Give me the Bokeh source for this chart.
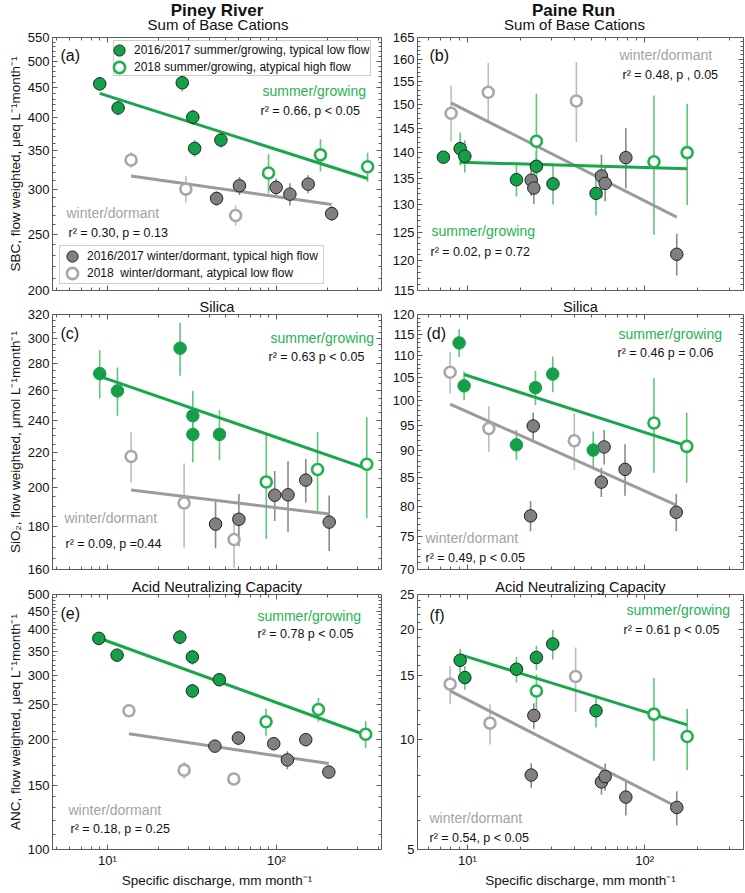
import math
from bokeh.plotting import figure
from bokeh.models import Range1d, FixedTicker, LogAxis, Label, Legend, LegendItem, BoxAnnotation, Title
from bokeh.layouts import column, row
from bokeh.embed import file_html
from bokeh.resources import INLINE

# ---------------- data ----------------
# groups: st = 2016/2017 summer/growing (typical low flow, filled green)
#         sa = 2018 summer/growing (atypical high flow, open green)
#         wt = 2016/2017 winter/dormant (typical high flow, filled gray)
#         wa = 2018 winter/dormant (atypical low flow, open gray)

# (a) Piney River, Sum of Base Cations
a_q = [9.0, 11.56, 27.7, 32.0, 32.8, 46.9, 89.7, 182, 346, 44.2, 60.4, 99.5, 120, 154, 212, 13.8, 29.1, 57.3]
a_val = [457, 415, 459, 400, 353, 365, 320, 344, 328, 289, 304, 302, 294, 306, 272, 337, 300, 270]
a_err = [13, 12, 16, 12, 12, 11, 25, 22, 19, 8, 11, 11, 13, 11, 8, 11, 16, 11]
a_grp = ["st"] * 6 + ["sa"] * 3 + ["wt"] * 6 + ["wa"] * 3
a_fit_sum_q, a_fit_sum_v = [9.0, 346], [440, 313]
a_fit_win_q, a_fit_win_v = [13.8, 212], [316, 282]

# (b) Paine Run, Sum of Base Cations
b_q = [7.31, 9.09, 9.66, 18.9, 24.5, 30.4, 53.2, 24.5, 113, 174, 22.9, 23.7, 57.1, 59.9, 78.4, 152, 8.08, 13.1, 41.2]
b_val = [139.1, 140.8, 139.3, 134.7, 137.3, 133.9, 132.1, 142.3, 138.2, 140.0, 134.6, 133.1, 135.4, 134.0, 139.0, 121.1, 148.1, 152.6, 150.7]
b_err = [0.8, 3.3, 3.2, 3.2, 3.0, 3.9, 4.1, 10.0, 13.7, 10.1, 3.0, 3.0, 4.2, 3.4, 6.0, 3.6, 5.9, 6.5, 8.6]
b_grp = ["st"] * 7 + ["sa"] * 3 + ["wt"] * 6 + ["wa"] * 3
b_fit_sum_q, b_fit_sum_v = [9.09, 174], [138.1, 136.8]
b_fit_win_q, b_fit_win_v = [8.08, 152], [150.3, 127.7]

# (c) Piney River, Silica
c_q = [9.0, 11.46, 26.9, 32.0, 32.0, 46.0, 87.0, 175, 342, 43.6, 59.9, 97.6, 117, 149, 205, 13.8, 28.4, 56.1]
c_val = [272.5, 260, 292, 243, 231, 231, 203, 210, 213, 181, 183.4, 195.8, 196, 204, 182, 217.5, 191.7, 173.6]
c_err = [17.8, 17, 21, 17, 17, 15.7, 29, 22.5, 29, 11.5, 13, 13.3, 18.7, 12, 13.7, 14.8, 21.8, 12.8]
c_grp = ["st"] * 6 + ["sa"] * 3 + ["wt"] * 6 + ["wa"] * 3
c_fit_sum_q, c_fit_sum_v = [9.0, 342], [270.5, 210.5]
c_fit_win_q, c_fit_win_v = [13.8, 205], [198.6, 186]

# (d) Paine Run, Silica
d_q = [8.97, 9.57, 18.9, 24.2, 30.3, 51.3, 113, 173, 22.7, 23.5, 57.0, 59.1, 77.6, 151, 7.98, 13.2, 40.1]
d_val = [113.0, 103.2, 91.1, 102.8, 105.8, 90.1, 95.4, 90.8, 78.4, 94.8, 84.2, 90.7, 86.5, 79.0, 106.2, 94.3, 91.9]
d_err = [3.3, 3.1, 2.9, 3.7, 4.0, 3.6, 9.5, 6.7, 2.5, 2.7, 2.6, 3.3, 4.7, 3.1, 4.6, 4.5, 5.5]
d_grp = ["st"] * 6 + ["sa"] * 2 + ["wt"] * 6 + ["wa"] * 3
d_fit_sum_q, d_fit_sum_v = [9.57, 173], [105.7, 90.9]
d_fit_win_q, d_fit_win_v = [7.98, 151], [99.3, 80.2]

# (e) Piney River, Acid Neutralizing Capacity
e_q = [8.89, 11.4, 26.8, 31.8, 31.8, 45.9, 86.7, 177, 337, 43.2, 59.5, 96.3, 116, 149, 204, 13.4, 28.4, 55.9]
e_val = [379, 341, 382, 337, 272, 292, 224, 242, 207, 192, 202, 195, 176, 200, 163, 240, 165, 156]
e_err = [16, 13, 18, 16, 12.6, 12, 19, 18, 17.5, 7, 9, 8, 10, 8, 6, 9, 8.7, 6.6]
e_grp = ["st"] * 6 + ["sa"] * 3 + ["wt"] * 6 + ["wa"] * 3
e_fit_sum_q, e_fit_sum_v = [8.89, 337], [380, 206]
e_fit_win_q, e_fit_win_v = [13.4, 204], [207.5, 172]

# (f) Paine Run, Acid Neutralizing Capacity
f_q = [9.09, 9.66, 18.9, 24.5, 30.3, 53.2, 24.5, 113, 174, 23.7, 22.9, 57.1, 59.9, 78.4, 152, 7.98, 13.4, 40.8]
f_val = [16.5, 14.8, 15.6, 16.8, 18.3, 12.0, 13.6, 11.75, 10.2, 11.65, 8.0, 7.66, 7.92, 6.96, 6.52, 14.2, 11.1, 14.9]
f_err = [1.25, 1.1, 1.25, 1.3, 1.7, 1.2, 1.5, 3.0, 1.95, 0.93, 0.62, 0.58, 0.68, 0.76, 0.7, 1.7, 1.4, 3.0]
f_grp = ["st"] * 6 + ["sa"] * 3 + ["wt"] * 6 + ["wa"] * 3
f_fit_sum_q, f_fit_sum_v = [9.09, 174], [17.1, 10.98]
f_fit_win_q, f_fit_win_v = [7.98, 152], [13.6, 6.55]

# axis ticks
x_ticks = [10, 100]
x_tick_labels = ["10\u00b9", "10\u00b2"]
x_minor = [5, 6, 7, 8, 9, 20, 30, 40, 50, 60, 70, 80, 90, 200, 300, 400]
a_yticks = [200, 250, 300, 350, 400, 450, 500, 550]
b_yticks = [115, 120, 125, 130, 135, 140, 145, 150, 155, 160, 165]
c_yticks = [160, 180, 200, 220, 240, 260, 280, 300, 320]
d_yticks = [70, 75, 80, 85, 90, 95, 100, 105, 110, 115, 120]
e_yticks = [100, 150, 200, 250, 300, 350, 400, 450, 500]
f_yticks = [5, 10, 15, 20, 25]

# ---------------- style ----------------
FONT = "Liberation Sans"
FRAME = "#5a5a5a"
GREEN_FILL = "#14a049"
GREEN_OPEN = "#22b14f"
GREEN_ERR = "#62c47e"
GREEN_LINE = "#1aa64a"
GREEN_TEXT = "#25b350"
GRAY_FILL = "#808080"
GRAY_OPEN = "#a8a8a8"
GRAY_ERR_T = "#8a8a8a"
GRAY_ERR_A = "#bcbcbc"
GRAY_LINE = "#9b9b9b"
GRAY_TEXT = "#a3a3a3"

HEADER_H = 32
COLS = [dict(width=384, bl=52, br=3, xr=(4.73, 418), toff=0),
        dict(width=361, bl=33, br=2, xr=(5.22, 362), toff=-6)]
ROWS = [dict(height=263, bt=5, bb=5),
        dict(height=280, bt=19, bb=6),
        dict(height=318, bt=19, bb=44)]


def minor_between(ticks, step):
    out = []
    v = ticks[0]
    while v < ticks[-1] - 1e-9:
        v = round(v + step, 6)
        if all(abs(v - t) > 1e-9 for t in ticks) and v < ticks[-1]:
            out.append(v)
    return out


def style_axis(ax, ticks, minor, labels=None):
    ax.ticker = FixedTicker(ticks=ticks, minor_ticks=minor)
    ax.axis_line_color = None
    ax.major_tick_in = 5
    ax.major_tick_out = 0
    ax.minor_tick_in = 3
    ax.minor_tick_out = 0
    ax.major_tick_line_color = FRAME
    ax.minor_tick_line_color = FRAME
    if labels is not None:
        ax.major_label_text_font = FONT
        ax.major_label_text_font_size = "13px"
        ax.major_label_text_color = "#111111"
        ax.major_label_standoff = 3
        ax.major_label_overrides = labels
    else:
        ax.major_label_text_font_size = "1px"
        ax.major_label_text_alpha = 0.0
        ax.major_label_standoff = 0


def axis_title(ax, text, standoff):
    ax.axis_label = text
    ax.axis_label_text_font = FONT
    ax.axis_label_text_font_size = "13.5px"
    ax.axis_label_text_font_style = "normal"
    ax.axis_label_text_color = "#111111"
    ax.axis_label_standoff = standoff


def add_label(p, text, x, y, size, color="#111111", align="left", bold=False):
    p.add_layout(Label(x=x, y=y, x_units="screen", y_units="screen", text=text,
                       text_font=FONT, text_font_size=size, text_color=color,
                       text_font_style="bold" if bold else "normal",
                       text_align=align, text_baseline="middle"))


def add_title(p, text, size, offset):
    p.add_layout(Title(text=text, align="center", offset=offset, standoff=0,
                       text_font=FONT, text_font_size=size, text_color="#111111",
                       text_font_style="normal"), "above")


def make_panel(ci, ri, q, val, err, grp, fit_s, fit_w, yr, yticks, ystep, st_outline):
    cg, rg = COLS[ci], ROWS[ri]
    p = figure(width=cg["width"], height=rg["height"], x_axis_type="log", y_axis_type="log",
               x_range=Range1d(*cg["xr"]), y_range=Range1d(*yr), title=None,
               output_backend="svg", toolbar_location=None,
               min_border_left=cg["bl"], min_border_right=cg["br"],
               min_border_top=rg["bt"], min_border_bottom=rg["bb"],
               background_fill_color="white", border_fill_color="white",
               outline_line_color=FRAME, outline_line_width=1)
    p.grid.visible = False
    bottom_ax = p.xaxis[0]
    left_ax = p.yaxis[0]
    yminor = minor_between(yticks, ystep)
    style_axis(bottom_ax, x_ticks, x_minor,
               dict(zip(x_ticks, x_tick_labels)) if ri == 2 else None)
    style_axis(left_ax, yticks, yminor, {t: str(t) for t in yticks})
    top = LogAxis()
    style_axis(top, x_ticks, x_minor)
    p.add_layout(top, "above")
    right = LogAxis()
    style_axis(right, yticks, yminor)
    p.add_layout(right, "right")

    def sel(g):
        idx = [i for i, gg in enumerate(grp) if gg == g]
        return [q[i] for i in idx], [val[i] for i in idx], [err[i] for i in idx]

    err_col = {"st": GREEN_ERR, "sa": GREEN_ERR, "wt": GRAY_ERR_T, "wa": GRAY_ERR_A}
    for g in ["wa", "wt", "sa", "st"]:
        xs, ys, es = sel(g)
        p.segment(x0=xs, y0=[y - e for y, e in zip(ys, es)], x1=xs, y1=[y + e for y, e in zip(ys, es)],
                  line_color=err_col[g], line_width=1.6)
    p.line(fit_w[0], fit_w[1], line_color=GRAY_LINE, line_width=3)
    p.line(fit_s[0], fit_s[1], line_color=GREEN_LINE, line_width=3)

    rend = {}
    xs, ys, _ = sel("wt")
    rend["wt"] = p.scatter(xs, ys, size=12.5, fill_color=GRAY_FILL, line_color="#222222", line_width=1)
    xs, ys, _ = sel("wa")
    rend["wa"] = p.scatter(xs, ys, size=11, fill_color="white", line_color=GRAY_OPEN, line_width=2.6)
    xs, ys, _ = sel("st")
    rend["st"] = p.scatter(xs, ys, size=12.5, fill_color=GREEN_FILL,
                           line_color="#1c2a1f" if st_outline else GREEN_FILL, line_width=1)
    xs, ys, _ = sel("sa")
    rend["sa"] = p.scatter(xs, ys, size=11, fill_color="white", line_color=GREEN_OPEN, line_width=2.6)
    return p, rend, bottom_ax, left_ax


def legend_box(p, left, right, bottom, top):
    p.add_layout(BoxAnnotation(left=left, right=right, bottom=bottom, top=top,
                               left_units="screen", right_units="screen",
                               bottom_units="screen", top_units="screen",
                               fill_color="white", fill_alpha=1.0,
                               line_color=FRAME, line_width=1))


def legend_entry(p, text, rend, loc):
    p.add_layout(Legend(items=[LegendItem(label=text, renderers=[rend])],
                        location=loc, orientation="vertical", glyph_width=28, glyph_height=28,
                        padding=0, spacing=0, label_standoff=1, label_height=14, margin=0,
                        label_text_font=FONT, label_text_font_size="12px", label_text_color="#111111",
                        border_line_color=None, background_fill_alpha=0.0))


# header strip with the river names and first-row subtitles
header = figure(width=745, height=HEADER_H, x_range=Range1d(0, 1), y_range=Range1d(0, 1),
                x_axis_location=None, y_axis_location=None, title=None,
                output_backend="svg", toolbar_location=None, min_border=0,
                outline_line_color=None, background_fill_color="white", border_fill_color="white")
header.grid.visible = False
for cx, name in [(216.5, "Piney River"), (573, "Paine Run")]:
    add_label(header, name, cx, 22, "17px", align="center", bold=True)
    add_label(header, "Sum of Base Cations", cx + 1, 8.5, "15px", align="center")

pa, ra, pa_x, pa_y = make_panel(0, 0, a_q, a_val, a_err, a_grp, (a_fit_sum_q, a_fit_sum_v),
                                (a_fit_win_q, a_fit_win_v), (200, 550), a_yticks, 10, True)
pb, rb, pb_x, pb_y = make_panel(1, 0, b_q, b_val, b_err, b_grp, (b_fit_sum_q, b_fit_sum_v),
                                (b_fit_win_q, b_fit_win_v), (115, 165), b_yticks, 1, True)
pc, rc, pc_x, pc_y = make_panel(0, 1, c_q, c_val, c_err, c_grp, (c_fit_sum_q, c_fit_sum_v),
                                (c_fit_win_q, c_fit_win_v), (160, 320), c_yticks, 5, False)
pd, rd, pd_x, pd_y = make_panel(1, 1, d_q, d_val, d_err, d_grp, (d_fit_sum_q, d_fit_sum_v),
                                (d_fit_win_q, d_fit_win_v), (70, 120), d_yticks, 1, False)
pe, re_, pe_x, pe_y = make_panel(0, 2, e_q, e_val, e_err, e_grp, (e_fit_sum_q, e_fit_sum_v),
                                 (e_fit_win_q, e_fit_win_v), (100, 500), e_yticks, 10, True)
pf, rf, pf_x, pf_y = make_panel(1, 2, f_q, f_val, f_err, f_grp, (f_fit_sum_q, f_fit_sum_v),
                                (f_fit_win_q, f_fit_win_v), (5, 25), f_yticks, 1, True)

# legends in panel (a)
legend_box(pa, 61, 318, 215, 250)
legend_entry(pa, "2016/2017 summer/growing, typical low flow", ra["st"], (53, 226))
legend_entry(pa, "2018 summer/growing, atypical high flow", ra["sa"], (53, 209))
legend_box(pa, 7, 271, 7, 45)
legend_entry(pa, "2016/2017 winter/dormant, typical high flow", ra["wt"], (6, 20))
legend_entry(pa, "2018  winter/dormant, atypical low flow", ra["wa"], (6, 3))

# subtitles of rows 2 and 3
for p, ci, t in [(pc, 0, "Silica"), (pd, 1, "Silica"),
                 (pe, 0, "Acid Neutralizing Capacity"), (pf, 1, "Acid Neutralizing Capacity")]:
    add_title(p, t, "14.6px", COLS[ci]["toff"])

# axis titles
axis_title(pe_x, "Specific discharge, mm month\u207b\u00b9", 2)
axis_title(pf_x, "Specific discharge, mm month\u207b\u00b9", 2)
axis_title(pa_y, "SBC, flow weighted, \u03bceq L\u207b\u00b9month\u207b\u00b9", 2)
axis_title(pc_y, "SiO\u2082, flow weighted, \u03bcmol L\u207b\u00b9month\u207b\u00b9", 2)
axis_title(pe_y, "ANC, flow weighted, \u03bceq L\u207b\u00b9month\u207b\u00b9", 2)

# panel annotations (positions in px from the frame's lower-left corner)
ann = [
    (pa, "(a)", 8, 235, "summer/growing", 210, 200, "r\u00b2  = 0.66,  p < 0.05", 208, 180,
     "winter/dormant", 14, 78, "r\u00b2  = 0.30,  p = 0.13", 16, 58),
    (pb, "(b)", 12, 235, "summer/growing", 14, 60, "r\u00b2  = 0.02,  p = 0.72", 13, 39,
     "winter/dormant", 202, 236, "r\u00b2  = 0.48,  p , 0.05", 205, 216),
    (pc, "(c)", 8, 236, "summer/growing", 218, 232, "r\u00b2  = 0.63  p < 0.05", 216, 213,
     "winter/dormant", 12, 52, "r\u00b2  = 0.09,  p =0.44", 13, 26),
    (pd, "(d)", 9, 236, "summer/growing", 201, 236, "r\u00b2  = 0.46  p = 0.06", 200, 217,
     "winter/dormant", 8, 32, "r\u00b2  = 0.49,  p < 0.05", 8, 12),
    (pe, "(e)", 8, 236, "summer/growing", 205, 234, "r\u00b2  = 0.78  p < 0.05", 205, 216,
     "winter/dormant", 16, 40, "r\u00b2  = 0.18,  p = 0.25", 18, 21),
    (pf, "(f)", 12, 234, "summer/growing", 209, 240, "r\u00b2  = 0.61  p < 0.05", 206, 220,
     "winter/dormant", 12, 32, "r\u00b2  = 0.54,  p < 0.05", 12, 12),
]
for (p, tag, tx, ty, s1, s1x, s1y, s2, s2x, s2y, w1, w1x, w1y, w2, w2x, w2y) in ann:
    add_label(p, tag, tx, ty, "16px")
    add_label(p, s1, s1x, s1y, "14px", color=GREEN_TEXT)
    add_label(p, s2, s2x, s2y, "12.5px")
    add_label(p, w1, w1x, w1y, "14px", color=GRAY_TEXT)
    add_label(p, w2, w2x, w2y, "12.5px")

layout = column(header, row(pa, pb), row(pc, pd), row(pe, pf))
open("out.html", "w").write(file_html(layout, INLINE))
